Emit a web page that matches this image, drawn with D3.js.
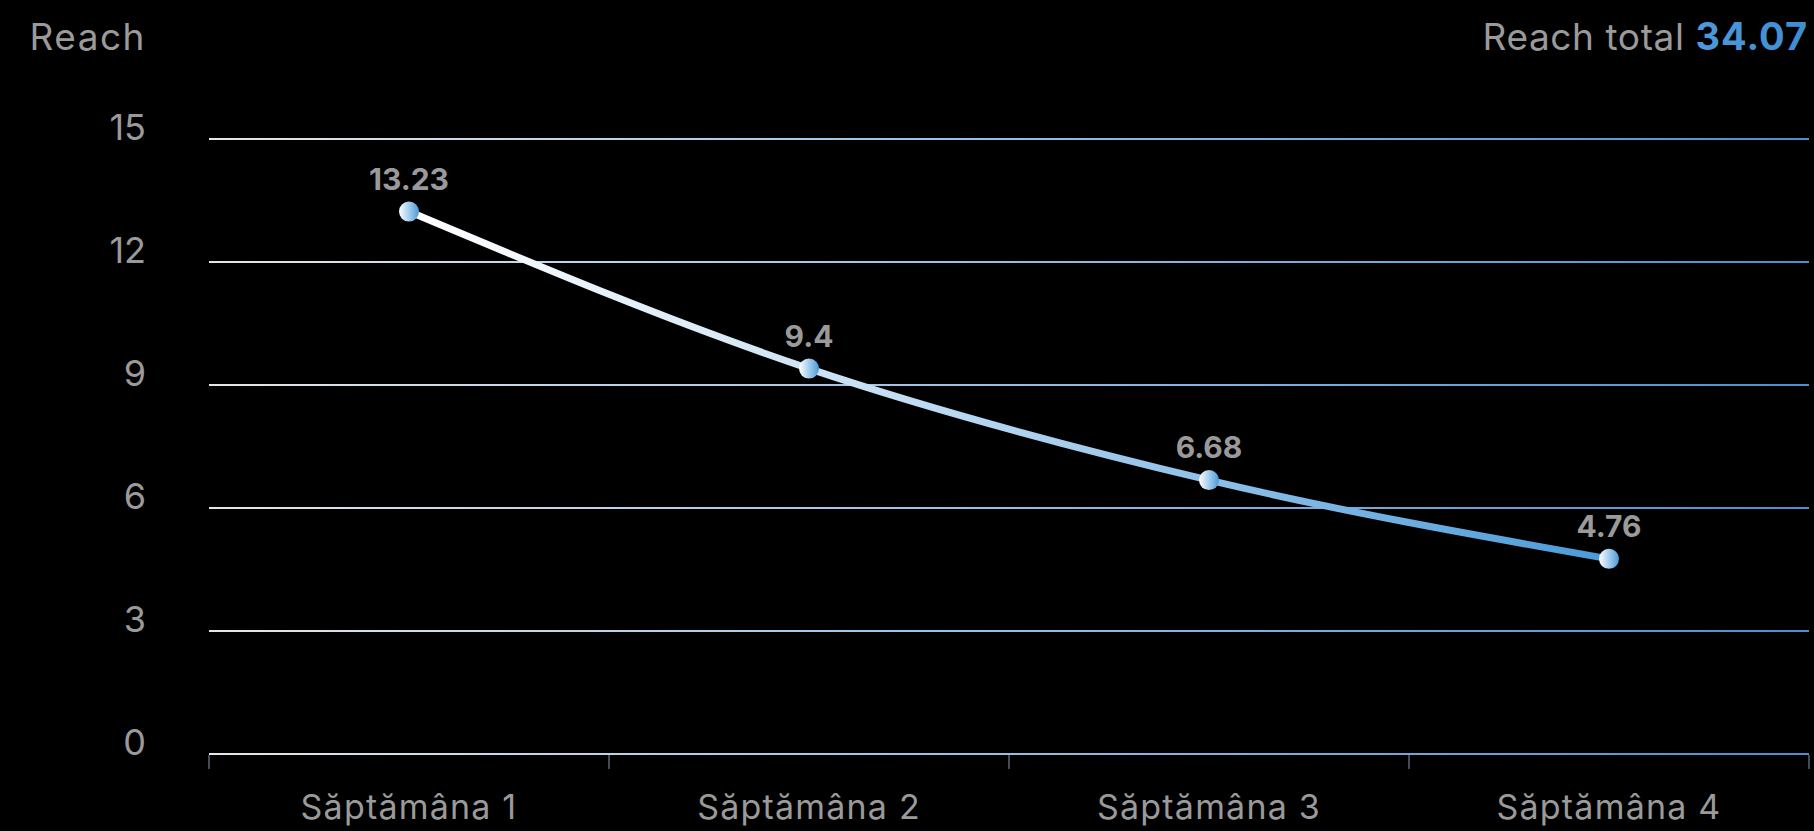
<!DOCTYPE html>
<html>
<head>
<meta charset="utf-8">
<script src="https://cdn.jsdelivr.net/npm/d3@7"></script>
<style>
  html, body { margin: 0; padding: 0; background: #000; }
  svg { display: block; }
</style>
</head>
<body>
<svg id="chart" width="1814" height="831"></svg>
<script>
const categories = ["Săptămâna 1", "Săptămâna 2", "Săptămâna 3", "Săptămâna 4"];
const reachValues = [13.23, 9.4, 6.68, 4.76];
const yTicks = [0, 3, 6, 9, 12, 15];
const yTitle = "Reach";
const totalLabel = "Reach total";

const W = 1814, H = 831;
const plot = { left: 209, right: 1809, top: 139, bottom: 754 };
const sansFont = "Inter, 'Open Sans', sans-serif";

const svg = d3.select("#chart");
const defs = svg.append("defs");

const x = d3.scaleBand().domain(categories).range([plot.left, plot.right]).padding(0);
const y = d3.scaleLinear().domain([0, 15]).range([plot.bottom, plot.top]);

// gradients
const gridGrad = defs.append("linearGradient").attr("id", "gridGrad")
  .attr("gradientUnits", "userSpaceOnUse")
  .attr("x1", plot.left).attr("x2", plot.right).attr("y1", 0).attr("y2", 0);
gridGrad.append("stop").attr("offset", "0%").attr("stop-color", "#e6e6e6");
gridGrad.append("stop").attr("offset", "45%").attr("stop-color", "#9cc3e6");
gridGrad.append("stop").attr("offset", "100%").attr("stop-color", "#4a8fd0");

const pts = categories.map((c, i) => ({ c, v: reachValues[i], px: x(c) + x.bandwidth() / 2, py: y(reachValues[i]) }));

const lineGrad = defs.append("linearGradient").attr("id", "lineGrad")
  .attr("gradientUnits", "userSpaceOnUse")
  .attr("x1", pts[0].px).attr("x2", pts[pts.length - 1].px).attr("y1", 0).attr("y2", 0);
lineGrad.append("stop").attr("offset", "0%").attr("stop-color", "#ffffff");
lineGrad.append("stop").attr("offset", "40%").attr("stop-color", "#c5def3");
lineGrad.append("stop").attr("offset", "100%").attr("stop-color", "#4a9ad8");

const dotGrad = defs.append("linearGradient").attr("id", "dotGrad")
  .attr("x1", "0%").attr("x2", "100%").attr("y1", "0%").attr("y2", "0%");
dotGrad.append("stop").attr("offset", "0%").attr("stop-color", "#ffffff");
dotGrad.append("stop").attr("offset", "100%").attr("stop-color", "#4a9ad8");

const totalGrad = defs.append("linearGradient").attr("id", "totalGrad")
  .attr("x1", "0%").attr("x2", "100%").attr("y1", "0%").attr("y2", "0%");
totalGrad.append("stop").attr("offset", "0%").attr("stop-color", "#6aaee6");
totalGrad.append("stop").attr("offset", "100%").attr("stop-color", "#3f8dd2");

// gridlines
svg.append("g").selectAll("line").data(yTicks).join("line")
  .attr("x1", plot.left).attr("x2", plot.right)
  .attr("y1", d => y(d)).attr("y2", d => y(d))
  .attr("stroke", "url(#gridGrad)").attr("stroke-width", 2);

// y tick labels
svg.append("g").selectAll("text").data(yTicks).join("text")
  .attr("x", 146).attr("y", d => y(d) + 1)
  .attr("text-anchor", "end")
  .attr("font-family", sansFont).attr("font-size", 36)
  .attr("fill", "#9a9a9a")
  .text(d => d);

// x axis ticks at band edges
const edges = categories.map(c => x(c)).concat([plot.right]);
svg.append("g").selectAll("line").data(edges).join("line")
  .attr("x1", d => d).attr("x2", d => d)
  .attr("y1", plot.bottom + 1).attr("y2", plot.bottom + 15)
  .attr("stroke", "#5b6570").attr("stroke-width", 1.5);

// x labels
svg.append("g").selectAll("text").data(categories).join("text")
  .attr("x", d => x(d) + x.bandwidth() / 2).attr("y", 819)
  .attr("text-anchor", "middle")
  .attr("font-family", sansFont).attr("font-size", 34)
  .attr("letter-spacing", 1.2)
  .attr("fill", "#9a9a9a")
  .text(d => d);

// line
const line = d3.line().x(d => d.px).y(d => d.py).curve(d3.curveMonotoneX);
svg.append("path").datum(pts)
  .attr("d", line)
  .attr("fill", "none")
  .attr("stroke", "url(#lineGrad)")
  .attr("stroke-width", 7)
  .attr("stroke-linecap", "round");

// points
svg.append("g").selectAll("circle").data(pts).join("circle")
  .attr("cx", d => d.px).attr("cy", d => d.py).attr("r", 10)
  .attr("fill", "url(#dotGrad)");

// value labels
svg.append("g").selectAll("text").data(pts).join("text")
  .attr("x", d => d.px).attr("y", d => d.py - 22)
  .attr("text-anchor", "middle")
  .attr("font-family", sansFont).attr("font-weight", 700).attr("font-size", 30)
  .attr("fill", "#9a9a9a")
  .text(d => d.v);

// title
svg.append("text")
  .attr("x", 146).attr("y", 50)
  .attr("text-anchor", "end")
  .attr("font-family", sansFont).attr("font-size", 37)
  .attr("letter-spacing", 1.5)
  .attr("fill", "#9a9a9a")
  .text(yTitle);

// total
const total = d3.sum(reachValues);
const tt = svg.append("text")
  .attr("x", 1808).attr("y", 50)
  .attr("text-anchor", "end")
  .attr("font-family", sansFont).attr("font-size", 37);
tt.append("tspan").attr("fill", "#9a9a9a").attr("letter-spacing", 0.6).text(totalLabel + " ");
tt.append("tspan").attr("fill", "url(#totalGrad)").attr("font-weight", 700).attr("font-size", 38).attr("letter-spacing", 1).text(total.toFixed(2));
</script>
</body>
</html>
